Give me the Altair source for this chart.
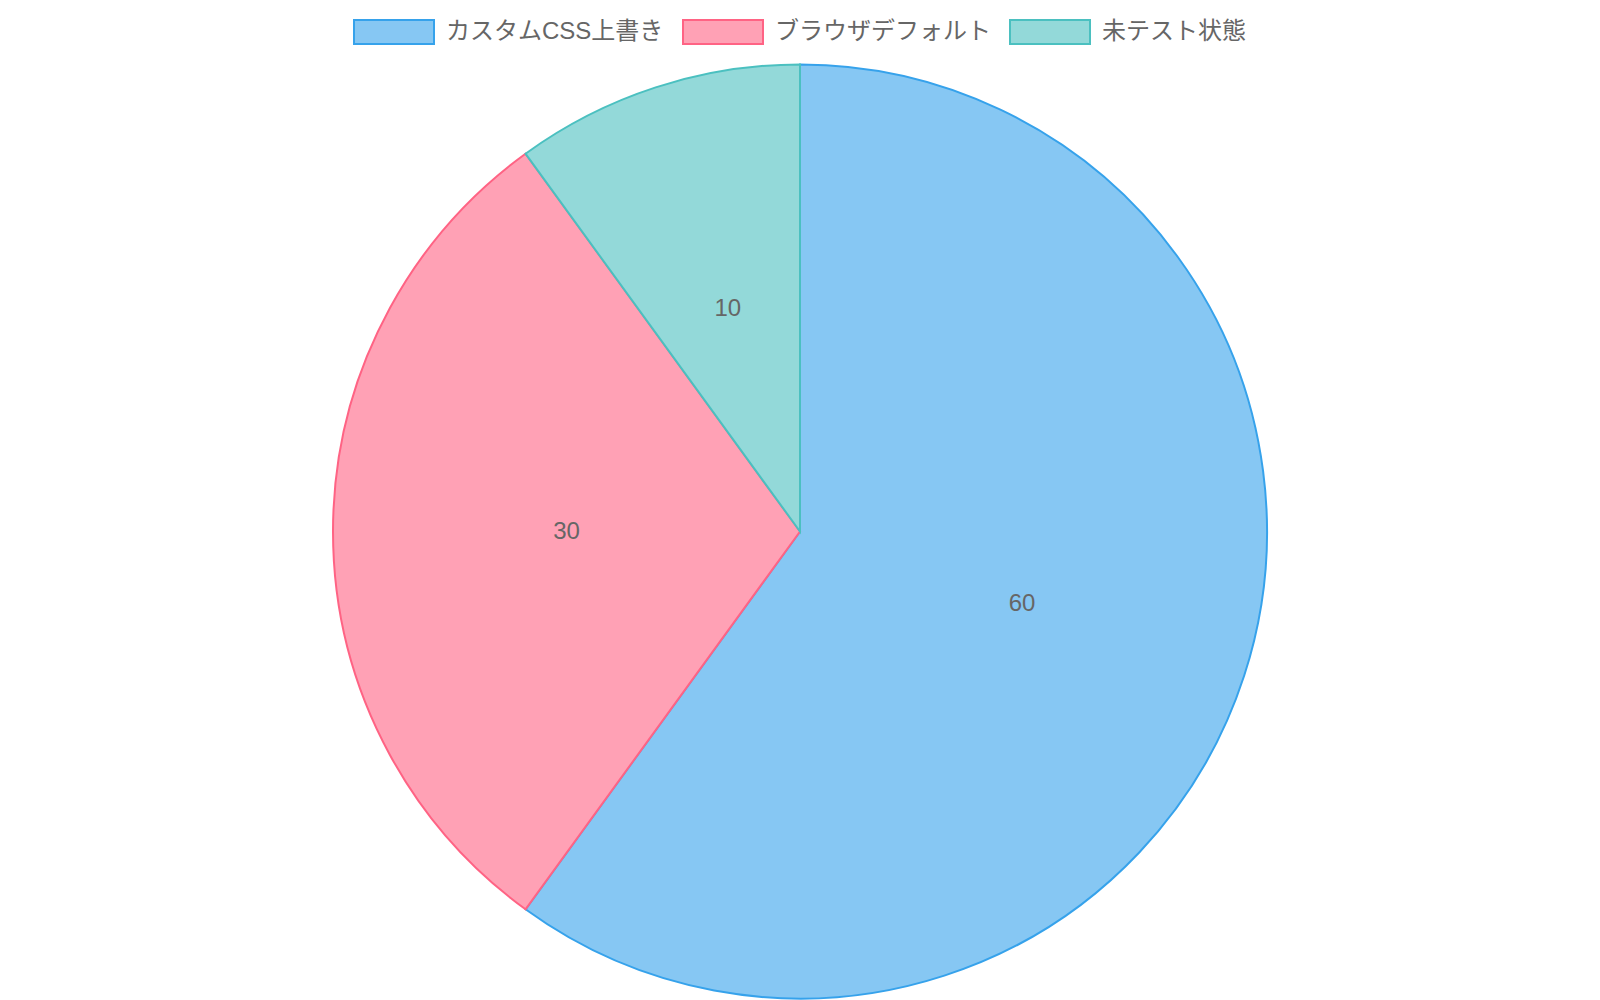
import altair as alt
import pandas as pd

categories = ["カスタムCSS上書き", "ブラウザデフォルト", "未テスト状態"]
values = [60, 30, 10]
fill_colors = ["#86C7F3", "#FFA1B5", "#93D9D9"]
border_colors = ["#36A2EB", "#FF6384", "#4BC0C0"]
order_idx = [0, 1, 2]

df = pd.DataFrame({"category": categories, "value": values, "idx": order_idx})

W, H = 1584, 992
CX, CY = 792, 523.5
R = 467
FONT = "Liberation Sans, Arial, Noto Sans CJK JP"

legend = alt.Legend(
    title=None,
    orient="none",
    legendX=345,
    legendY=-17,
    direction="horizontal",
    symbolType="M-1,-0.3L1,-0.3L1,0.3L-1,0.3Z",
    symbolSize=6400,
    symbolStrokeWidth=2,
    symbolOpacity=1,
    labelFont=FONT,
    labelFontSize=24,
    labelColor="#666666",
    labelOffset=11,
    labelLimit=500,
    columnPadding=15,
)

color = alt.Color("category:N", sort=categories,
                  scale=alt.Scale(domain=categories, range=fill_colors), legend=legend)
stroke = alt.Stroke("category:N", sort=categories,
                    scale=alt.Scale(domain=categories, range=border_colors), legend=legend)

base = alt.Chart(df).encode(
    theta=alt.Theta("value:Q", stack=True),
    order=alt.Order("idx:Q"),
)

arcs = base.mark_arc(outerRadius=R, strokeWidth=2, opacity=1).encode(
    color=color, stroke=stroke,
    x=alt.value(CX), y=alt.value(CY),
)

labels = base.mark_text(radius=R / 2, fontSize=24, font=FONT, color="#666666").encode(
    text="value:Q",
    x=alt.value(CX), y=alt.value(CY),
)

chart = alt.layer(arcs, labels).properties(
    width=W, height=H, padding=0,
    autosize=alt.AutoSizeParams(type="none"),
).configure_view(stroke=None)

chart.save("out.html", embed_options={"renderer": "svg", "actions": False})
